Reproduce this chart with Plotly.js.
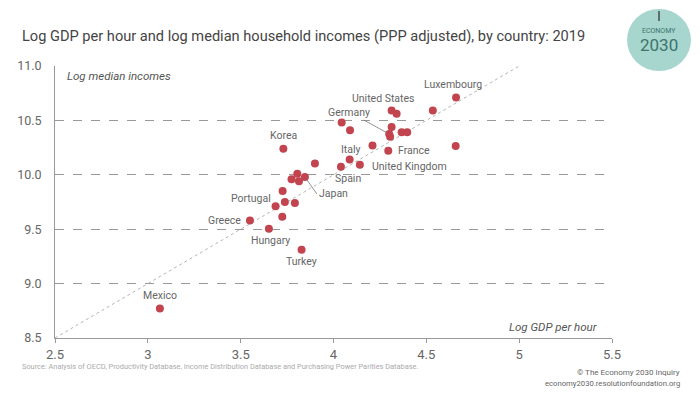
<!DOCTYPE html>
<html>
<head>
<meta charset="utf-8">
<script src="https://cdn.plot.ly/plotly-3.0.1.min.js"></script>
<style>html,body{margin:0;padding:0;background:#fff;}#chart{width:700px;height:394px;}</style>
</head>
<body>
<div id="chart"></div>
<script>
// ---- data ----
const country = ["Luxembourg","","United States","","","","Germany","","","","","Korea","","France","","Italy","United Kingdom","Spain","","Japan","","","","","Portugal","","","","Greece","Hungary","Turkey","Mexico"];
const logGdpPerHour = [4.66,4.535,4.313,4.34,4.044,4.313,4.30,4.305,4.367,4.397,4.089,3.73,4.21,4.295,4.658,4.087,4.142,4.04,3.90,3.846,3.805,3.774,3.814,3.726,3.738,3.688,3.792,3.724,3.55,3.652,3.828,3.065];
const logMedianIncome = [10.71,10.59,10.59,10.56,10.48,10.44,10.375,10.35,10.39,10.39,10.41,10.24,10.27,10.22,10.265,10.14,10.093,10.075,10.105,9.98,10.01,9.96,9.94,9.85,9.75,9.71,9.74,9.615,9.58,9.505,9.31,8.77];
const refLineX = [2.5, 5];
const refLineY = [8.5, 11];
const xTicks = [2.5, 3, 3.5, 4, 4.5, 5, 5.5];
const xTickText = ["2.5","3","3.5","4","4.5","5","5.5"];
const yTicks = [8.5, 9, 9.5, 10, 10.5, 11];
const yTickText = ["8.5","9.0","9.5","10.0","10.5","11.0"];

// ---- label placement (pixel offsets relative to each labelled point) ----
const labelStyle = {
  "Luxembourg":     {dx: -3,  dy: -13, anchor: "center"},
  "United States":  {dx: -8,  dy: -12, anchor: "center"},
  "Germany":        {dx: -40, dy: -22, anchor: "center", arrow: true},
  "Korea":          {dx: 0,   dy: -13, anchor: "center"},
  "France":         {dx: 8,   dy: 0,   anchor: "left"},
  "Italy":          {dx: 1,   dy: -10, anchor: "center"},
  "United Kingdom": {dx: 10,  dy: 2,   anchor: "left"},
  "Spain":          {dx: 7,   dy: 12,  anchor: "center"},
  "Japan":          {dx: 12,  dy: 17,  anchor: "left", arrow: true},
  "Portugal":       {dx: -12, dy: -4,  anchor: "right"},
  "Greece":         {dx: -7,  dy: 0,   anchor: "right"},
  "Hungary":        {dx: 2,   dy: 12,  anchor: "center"},
  "Turkey":         {dx: 0,   dy: 12,  anchor: "center"},
  "Mexico":         {dx: 0,   dy: -13, anchor: "center"}
};

const FONT = "Roboto, 'Noto Sans', sans-serif";
const labelFont = {family: FONT, size: 10.5, color: "#666"};
const annotations = [];
country.forEach((c, i) => {
  if (!c || !labelStyle[c]) return;
  const s = labelStyle[c];
  if (s.arrow) {
    annotations.push({
      x: logGdpPerHour[i], y: logMedianIncome[i], xref: "x", yref: "y",
      text: c, showarrow: true, arrowhead: 0, arrowwidth: 0.8, arrowcolor: "#777",
      ax: s.dx, ay: s.dy, standoff: 3, font: labelFont, xanchor: s.anchor
    });
  } else {
    annotations.push({
      x: logGdpPerHour[i], y: logMedianIncome[i], xref: "x", yref: "y",
      text: c, showarrow: false, xshift: s.dx, yshift: -s.dy,
      xanchor: s.anchor, yanchor: "middle", font: labelFont
    });
  }
});

// pixel -> paper helpers (plot area l=55, r=612, t=66, b=338)
const px = v => (v - 55) / 557;
const py = v => (338 - v) / 272;

// axis captions
annotations.push({x: px(65), y: py(76), xref: "paper", yref: "paper", text: "<i>Log median incomes</i>",
  showarrow: false, xanchor: "left", yanchor: "middle", font: {family: FONT, size: 11.5, color: "#555"}});
annotations.push({x: px(600), y: py(327), xref: "paper", yref: "paper", text: "<i>Log GDP per hour</i>",
  showarrow: false, xanchor: "right", yanchor: "middle", font: {family: FONT, size: 11.5, color: "#555"}});
// source and credits
annotations.push({x: px(20), y: py(366), xref: "paper", yref: "paper", text: "Source: Analysis of OECD, Productivity Database, Income Distribution Database and Purchasing Power Parities Database.",
  showarrow: false, xanchor: "left", yanchor: "middle", font: {family: FONT, size: 7.4, color: "#aaa"}});
annotations.push({x: px(682), y: py(372), xref: "paper", yref: "paper", text: "© The Economy 2030 Inquiry",
  showarrow: false, xanchor: "right", yanchor: "middle", font: {family: FONT, size: 8, color: "#666"}});
annotations.push({x: px(682), y: py(383), xref: "paper", yref: "paper", text: "economy2030.resolutionfoundation.org",
  showarrow: false, xanchor: "right", yanchor: "middle", font: {family: FONT, size: 7.7, color: "#666"}});
// logo text
annotations.push({x: px(659), y: py(31), xref: "paper", yref: "paper", text: "ECONOMY",
  showarrow: false, xanchor: "center", yanchor: "middle", font: {family: FONT, size: 7, color: "#3d746c"}});
annotations.push({x: px(659), y: py(45.5), xref: "paper", yref: "paper", text: "2030",
  showarrow: false, xanchor: "center", yanchor: "middle", font: {family: FONT, size: 17, color: "#3d746c"}});

const shapes = [
  {type: "circle", xref: "paper", yref: "paper", xsizemode: "pixel", ysizemode: "pixel",
   xanchor: px(659), yanchor: py(40), x0: -32, x1: 32, y0: -31, y1: 31,
   fillcolor: "#a6d6cd", line: {width: 0}, layer: "below"},
  {type: "line", xref: "paper", yref: "paper", xsizemode: "pixel", ysizemode: "pixel",
   xanchor: px(659), yanchor: py(16), x0: 0, x1: 0, y0: -5, y1: 5,
   line: {color: "#4a4a4a", width: 1.5}}
];

const traces = [
  {x: refLineX, y: refLineY, type: "scatter", mode: "lines", hoverinfo: "skip",
   line: {color: "#b5b5b5", width: 1, dash: "dot"}},
  {x: logGdpPerHour, y: logMedianIncome, text: country, type: "scatter", mode: "markers",
   marker: {color: "#c1444f", size: 8}}
];

const layout = {
  width: 700, height: 394,
  margin: {l: 55, r: 88, t: 66, b: 56},
  paper_bgcolor: "#fff", plot_bgcolor: "#fff",
  showlegend: false,
  title: {text: "Log GDP per hour and log median household incomes (PPP adjusted), by country: 2019",
    x: 22/700, xanchor: "left", y: 1 - 36/394, yanchor: "middle", xref: "container", yref: "container",
    font: {family: FONT, size: 14.6, color: "#444"}},
  xaxis: {range: [2.5, 5.5], tickvals: xTicks, ticktext: xTickText, showgrid: false, zeroline: false,
    showline: true, linecolor: "#999", linewidth: 1, ticks: "outside", ticklen: 4, tickcolor: "#999",
    tickfont: {family: FONT, size: 13, color: "#666"}},
  yaxis: {range: [8.5, 11], tickvals: yTicks, ticktext: yTickText, showgrid: true, gridcolor: "#999",
    griddash: "dash", gridwidth: 1, zeroline: false, showline: true, linecolor: "#999", linewidth: 1,
    ticks: "outside", ticklen: 10, tickcolor: "rgba(0,0,0,0)",
    tickfont: {family: FONT, size: 12.5, color: "#666"}},
  annotations: annotations,
  shapes: shapes
};

Plotly.newPlot("chart", traces, layout, {displayModeBar: false, staticPlot: true});
</script>
</body>
</html>
